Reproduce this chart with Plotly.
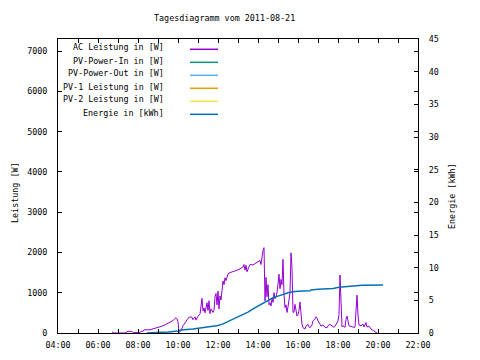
import plotly.graph_objects as go

DAY = "2011-08-21 "

# AC Leistung [W]
ac_time = ["06:42","06:48","07:24","07:27","07:42","07:45","08:06","08:09","08:15","08:18","08:36","08:45",
           "09:00","09:12","09:21","09:36","09:45","09:54","09:57","10:00","10:03","10:09","10:15","10:21",
           "10:27","10:30","10:36","10:42","10:45","10:51","10:54","11:00","11:06","11:09","11:12","11:15",
           "11:18","11:21","11:24","11:27","11:30","11:33","11:36","11:39","11:45","11:48","11:51","11:54",
           "11:57","12:00","12:03","12:06","12:09","12:12","12:15","12:18","12:21","12:24","12:30","12:36",
           "12:45","12:54","13:06","13:15","13:18","13:21","13:24","13:27","13:33","13:36","13:45","13:51",
           "14:00","14:06","14:09","14:12","14:15","14:18","14:21","14:24","14:27","14:30","14:33","14:36",
           "14:39","14:42","14:45","14:48","14:51","14:54","14:57","15:00","15:03","15:06","15:09","15:12",
           "15:15","15:18","15:21","15:24","15:27","15:30","15:33","15:36","15:39","15:42","15:45","15:48",
           "15:51","15:54","15:57","16:00","16:03","16:06","16:09","16:12","16:15","16:18","16:21","16:24",
           "16:27","16:30","16:33","16:36","16:42","16:45","16:51","16:54","16:57","17:00","17:06","17:09",
           "17:15","17:21","17:27","17:30","17:36","17:42","17:48","17:51","17:57","18:00","18:03","18:06",
           "18:09","18:12","18:15","18:21","18:24","18:27","18:33","18:42","18:48","18:51","18:54","18:57",
           "19:00","19:03","19:09","19:15","19:18","19:24","19:27","19:33","19:39","19:45","19:54","19:57"]
ac_watt = [30,0,0,40,40,10,10,40,40,80,80,100,
           140,170,200,260,310,380,350,280,10,60,180,250,
           320,365,400,390,330,400,320,420,465,710,860,550,
           620,500,650,750,560,800,480,600,510,560,900,980,
           700,1040,600,920,820,1085,1290,1200,1370,1300,1470,1500,
           1520,1550,1590,1640,1700,1560,1680,1520,1650,1700,1690,1720,
           1760,1800,1700,1910,2050,2120,800,1380,900,1200,700,750,
           670,850,760,1000,850,900,1000,1210,1460,1100,1330,1200,
           1830,960,630,700,510,650,840,1000,1990,1620,510,520,
           710,540,420,460,560,770,350,220,130,110,100,170,
           200,215,150,130,200,300,350,400,370,300,220,170,
           200,140,130,180,215,180,140,170,260,300,460,1440,
           800,150,180,140,340,420,180,150,140,150,590,940,
           450,200,180,220,150,260,150,170,100,60,20,0]

# Energie [kWh]
en_time = ["08:27","09:00","09:30","10:00","10:09","10:45","11:24","12:00","12:15","12:30","12:45","13:00",
           "13:15","13:30","13:45","14:00","14:15","14:30","14:45","15:00","15:15","15:30","15:45","16:00",
           "16:36","16:39","17:00","17:45","18:03","18:51","19:12","20:15"]
en_kwh = [0,0.05,0.15,0.3,0.45,0.6,0.85,1.15,1.4,1.75,2.05,2.4,
          2.8,3.2,3.7,4.15,4.6,5.0,5.4,5.65,5.95,6.15,6.3,6.4,
          6.45,6.6,6.7,6.8,7.0,7.15,7.3,7.35]

legend_names = ["AC Leistung in [W]", "PV-Power-In in [W]", "PV-Power-Out in [W]",
                "PV-1 Leistung in [W]", "PV-2 Leistung in [W]", "Energie in [kWh]"]
legend_colors = ["#9400d3", "#009e73", "#56b4e9", "#e69f00", "#f0e442", "#0072b2"]

left_ticks = [0, 1000, 2000, 3000, 4000, 5000, 6000, 7000]
right_ticks = [0, 5, 10, 15, 20, 25, 30, 35, 40, 45]
x_ticks = ["04:00","06:00","08:00","10:00","12:00","14:00","16:00","18:00","20:00","22:00"]

FONT = dict(family="DejaVu Sans Mono", size=8.4, color="black")
W, H = 480, 360
OFF = 8  # page body margin
L, R, T, B = 58 - OFF, 418 - OFF, 39 - OFF, 333 - OFF

def px(x):
    return (x - OFF - L) / (R - L)

def py(y):
    return (B - (y - OFF)) / (B - T)

fig = go.Figure()
fig.add_trace(go.Scatter(x=[DAY + t for t in ac_time], y=ac_watt, mode="lines",
                         line=dict(color=legend_colors[0], width=1), yaxis="y", showlegend=False))
fig.add_trace(go.Scatter(x=[DAY + t for t in en_time], y=en_kwh, mode="lines",
                         line=dict(color=legend_colors[5], width=1.5), yaxis="y2", showlegend=False))

annotations = [
    dict(text="Tagesdiagramm vom 2011-08-21", x=px(224), y=py(18), xref="paper", yref="paper",
         showarrow=False, font=FONT, xanchor="center", yanchor="middle"),
    dict(text="Leistung [W]", x=px(15), y=py(193), xref="paper", yref="paper", textangle=-90,
         showarrow=False, font=FONT, xanchor="center", yanchor="middle"),
    dict(text="Energie [kWh]", x=px(452), y=py(196), xref="paper", yref="paper", textangle=-90,
         showarrow=False, font=FONT, xanchor="center", yanchor="middle"),
]
shapes = []
for i, (name, col) in enumerate(zip(legend_names, legend_colors)):
    yt = 47.5 + 13 * i
    yl = 49.3 + 13 * i
    annotations.append(dict(text=name, x=px(166), y=py(yt), xref="paper", yref="paper",
                            showarrow=False, font=FONT, xanchor="right", yanchor="middle"))
    shapes.append(dict(type="line", xref="paper", yref="paper", x0=px(190), x1=px(218),
                       y0=py(yl), y1=py(yl), line=dict(color=col, width=1.5)))

fig.update_layout(
    width=W, height=H,
    margin=dict(l=L, r=W - R, t=T, b=H - B, pad=0),
    paper_bgcolor="white", plot_bgcolor="white",
    font=FONT,
    showlegend=False,
    annotations=annotations,
    shapes=shapes,
    xaxis=dict(type="date", range=[DAY + "04:00", DAY + "22:00"],
               tickvals=[DAY + t for t in x_ticks], ticktext=x_ticks,
               ticks="inside", ticklen=4, tickcolor="black", tickwidth=1,
               minor=dict(dtick=3600000, ticks="inside", ticklen=4, tickcolor="black", showgrid=False),
               showline=True, linecolor="black", linewidth=1, mirror="ticks",
               showgrid=False, zeroline=False, tickfont=FONT, ticklabelstandoff=4),
    yaxis=dict(range=[0, 7300], tickvals=left_ticks, ticks="inside", ticklen=4,
               tickcolor="black", showline=True, linecolor="black", linewidth=1, mirror="ticks",
               showgrid=False, zeroline=False, tickfont=FONT, ticklabelstandoff=8),
    yaxis2=dict(range=[0, 45], tickvals=right_ticks, overlaying="y", side="right",
                ticks="inside", ticklen=4, tickcolor="black", showline=True, linecolor="black",
                showgrid=False, zeroline=False, tickfont=FONT, ticklabelstandoff=8),
)

fig.write_html("out.html")
